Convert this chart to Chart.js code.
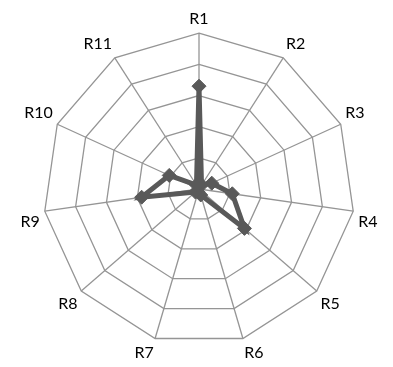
<!DOCTYPE html>
<html>
<head>
<meta charset="utf-8">
<script src="https://cdn.jsdelivr.net/npm/chart.js@4/dist/chart.umd.min.js"></script>
<style>
    html, body { margin: 0; padding: 0; background: #fff; }
    #wrap { width: 393px; height: 367px; }
</style>
</head>
<body>
<div id="wrap"><canvas id="radarChart"></canvas></div>
<script>
// 축 라벨과 값
const labels = ['R1', 'R2', 'R3', 'R4', 'R5', 'R6', 'R7', 'R8', 'R9', 'R10', 'R11'];
const values = [3.3, 0.15, 0.45, 1.08, 1.93, 0.2, 0.1, 0.15, 1.86, 1.05, 0.15];
const scaleMax = 5;
const scaleStep = 1;

const lineColor = '#595959';
const gridColor = '#959595';

new Chart(document.getElementById('radarChart'), {
    type: 'radar',
    data: {
        labels: labels,
        datasets: [{
            data: values,
            borderColor: lineColor,
            backgroundColor: 'transparent',
            borderWidth: 5,
            fill: false,
            pointStyle: 'rectRot',
            pointRadius: 7,
            pointBackgroundColor: lineColor,
            pointBorderColor: lineColor,
            pointBorderWidth: 1
        }]
    },
    options: {
        responsive: true,
        maintainAspectRatio: false,
        animation: false,
        layout: { padding: { top: 6, bottom: -40, left: 7, right: -14 } },
        plugins: {
            legend: { display: false },
            tooltip: { enabled: false }
        },
        scales: {
            r: {
                min: 0,
                max: scaleMax,
                ticks: { stepSize: scaleStep, display: false },
                grid: { color: gridColor, lineWidth: 1.3 },
                angleLines: { color: gridColor, lineWidth: 1.3 },
                pointLabels: {
                    color: '#000',
                    padding: 5,
                    font: { family: 'Lato, "Open Sans", sans-serif', size: 16 }
                }
            }
        }
    }
});
</script>
</body>
</html>
